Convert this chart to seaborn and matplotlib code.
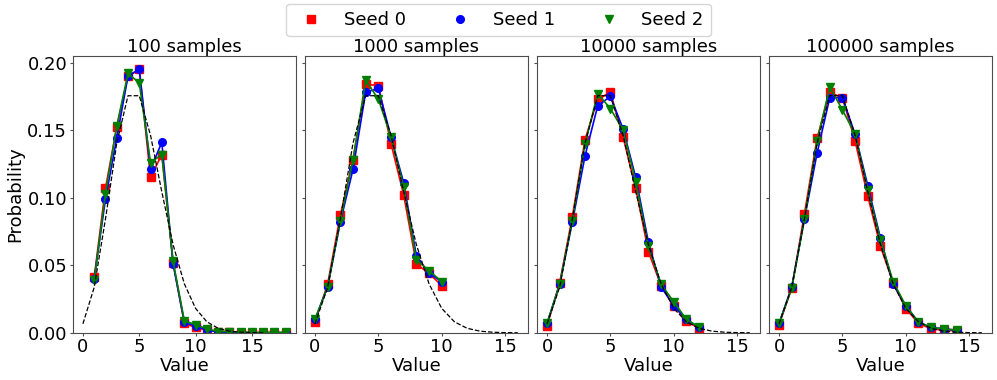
"""
Empirical distributions of sampled values for three seeds, against the
reference distribution (dashed), at four sample sizes.
"""
import matplotlib
matplotlib.use("Agg")
import matplotlib.pyplot as plt
from matplotlib.lines import Line2D
import seaborn as sns

# ─────────────────────────────────────────────────────────────────────────────
# Data
# ─────────────────────────────────────────────────────────────────────────────

PANEL_TITLES = ["100 samples", "1000 samples", "10000 samples", "100000 samples"]
SEED_LABELS = ["Seed 0", "Seed 1", "Seed 2"]

# reference distribution (dashed line), same on every panel
ref_x = list(range(0, 17))
ref_p = [0.0067, 0.0337, 0.0842, 0.1404, 0.1755, 0.1755, 0.1462, 0.1044,
         0.0653, 0.0363, 0.0181, 0.0082, 0.0034, 0.0013, 0.0005, 0.0002, 0.0001]

# 100 samples
x_100 = list(range(1, 19))
seed0_100 = [0.041, 0.107, 0.152, 0.190, 0.195, 0.115, 0.132, 0.052, 0.007,
             0.004, 0.002, 0.001, 0.001, 0.0, 0.0, 0.0, 0.0, 0.0]
seed1_100 = [0.040, 0.099, 0.144, 0.190, 0.195, 0.121, 0.141, 0.051, 0.008,
             0.005, 0.002, 0.001, 0.0, 0.0, 0.0, 0.0, 0.0, 0.0]
seed2_100 = [0.039, 0.103, 0.153, 0.192, 0.185, 0.126, 0.132, 0.053, 0.009,
             0.006, 0.003, 0.001, 0.001, 0.0005, 0.0005, 0.0005, 0.0005, 0.0005]

# 1000 samples
x_1000 = list(range(0, 11))
seed0_1000 = [0.008, 0.036, 0.087, 0.128, 0.184, 0.183, 0.140, 0.102, 0.051, 0.044, 0.035]
seed1_1000 = [0.010, 0.034, 0.082, 0.121, 0.178, 0.181, 0.145, 0.111, 0.057, 0.044, 0.038]
seed2_1000 = [0.010, 0.034, 0.083, 0.128, 0.187, 0.173, 0.145, 0.108, 0.054, 0.046, 0.038]

# 10000 samples
x_10000 = list(range(0, 13))
seed0_10000 = [0.005, 0.037, 0.086, 0.143, 0.173, 0.178, 0.145, 0.107, 0.060,
               0.035, 0.020, 0.009, 0.003]
seed1_10000 = [0.007, 0.036, 0.082, 0.131, 0.168, 0.175, 0.151, 0.115, 0.067,
               0.034, 0.020, 0.010, 0.004]
seed2_10000 = [0.007, 0.036, 0.083, 0.140, 0.177, 0.166, 0.150, 0.112, 0.064,
               0.036, 0.023, 0.010, 0.004]

# 100000 samples
x_100000 = list(range(0, 15))
seed0_100000 = [0.006, 0.033, 0.088, 0.144, 0.178, 0.174, 0.142, 0.101, 0.064,
                0.037, 0.018, 0.007, 0.003, 0.002, 0.0015]
seed1_100000 = [0.007, 0.034, 0.084, 0.133, 0.174, 0.174, 0.147, 0.109, 0.070,
                0.036, 0.020, 0.008, 0.004, 0.003, 0.002]
seed2_100000 = [0.007, 0.033, 0.084, 0.142, 0.182, 0.165, 0.147, 0.106, 0.069,
                0.038, 0.020, 0.008, 0.004, 0.003, 0.002]

PANELS = [
    (x_100, [seed0_100, seed1_100, seed2_100]),
    (x_1000, [seed0_1000, seed1_1000, seed2_1000]),
    (x_10000, [seed0_10000, seed1_10000, seed2_10000]),
    (x_100000, [seed0_100000, seed1_100000, seed2_100000]),
]

# ─────────────────────────────────────────────────────────────────────────────
# Style
# ─────────────────────────────────────────────────────────────────────────────

SEED_COLORS = ["red", "blue", "green"]
SEED_MARKERS = ["s", "o", "v"]

plt.rcParams.update({
    "font.family": "DejaVu Sans",
    "font.size": 13,
    "axes.edgecolor": "0.3",
    "axes.linewidth": 0.8,
    "xtick.major.size": 2.5,
    "ytick.major.size": 2.5,
    "xtick.major.pad": 1.5,
    "ytick.major.pad": 1.5,
    "xtick.color": "0.3",
    "ytick.color": "0.3",
    "xtick.labelcolor": "black",
    "ytick.labelcolor": "black",
})

fig, axes = plt.subplots(1, 4, figsize=(9.97, 3.8), dpi=100, sharey=True)
fig.subplots_adjust(left=0.073, right=0.995, bottom=0.124, top=0.853, wspace=0.04)

for ax, title, (xs, seeds) in zip(axes, PANEL_TITLES, PANELS):
    for vals, color, marker in zip(seeds, SEED_COLORS, SEED_MARKERS):
        sns.lineplot(x=xs, y=vals, ax=ax, color=color, marker=marker,
                     markersize=5.5, markeredgecolor=color, markeredgewidth=1,
                     linewidth=1.2)
    sns.lineplot(x=ref_x, y=ref_p, ax=ax, color="black", linestyle="--",
                 linewidth=0.9)
    ax.set_title(title, fontsize=13, pad=2.5)
    ax.set_xlabel("Value", fontsize=13, labelpad=0.5)
    ax.set_xticks([0, 5, 10, 15])
    ax.tick_params(labelsize=13)

axes[0].set_ylim(0, 0.205)
axes[0].set_yticks([0.0, 0.05, 0.10, 0.15, 0.20])
axes[0].set_ylabel("Probability", fontsize=13, labelpad=2)

handles = [Line2D([], [], linestyle="", marker=m, color=c, markersize=5.5)
           for c, m in zip(SEED_COLORS, SEED_MARKERS)]
fig.legend(handles, SEED_LABELS, loc="upper center", ncol=3,
           bbox_to_anchor=(0.5, 0.99), borderaxespad=0, fontsize=13)

fig.savefig("out.png", dpi=100)
